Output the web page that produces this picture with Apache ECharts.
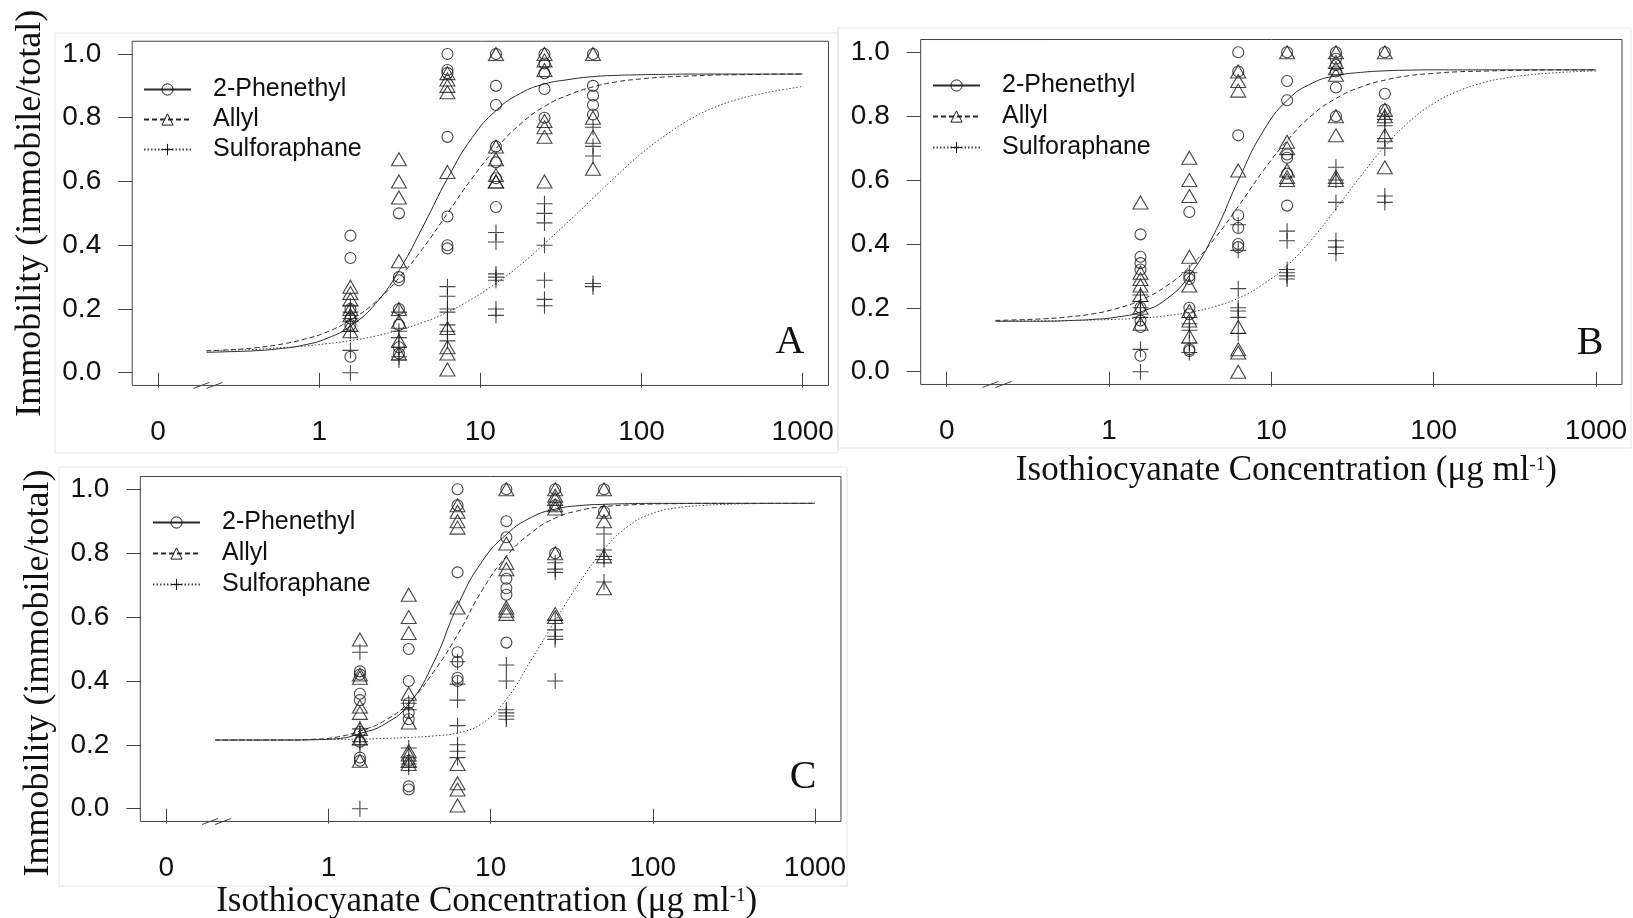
<!DOCTYPE html>
<html>
<head>
<meta charset="utf-8">
<script src="https://cdn.jsdelivr.net/npm/echarts@6/dist/echarts.min.js"></script>
<style>
  html, body { margin: 0; padding: 0; background: #fff; }
  #chart { width: 1633px; height: 918px; }
</style>
</head>
<body>
<div id="chart"></div>
<script>
// tested concentrations (ug/ml)
var doses = [1.5625, 3.125, 6.25, 12.5, 25, 50]
var xTicks = [0.1, 1, 10, 100, 1000]
var yTicks = [0, 0.2, 0.4, 0.6, 0.8, 1.0]
var seriesNames = ['2-Phenethyl', 'Allyl', 'Sulforaphane']
var panelLetters = ['A', 'B', 'C']

// observed immobility, one list per concentration
var aPhen = [
  [0.43, 0.36, 0.2, 0.17, 0.15, 0.05],
  [0.5, 0.3, 0.29, 0.2, 0.15, 0.08, 0.06],
  [1.0, 0.95, 0.94, 0.74, 0.49, 0.4, 0.39],
  [1.0, 0.9, 0.84, 0.71, 0.66, 0.61, 0.52],
  [1.0, 0.97, 0.94, 0.89, 0.8],
  [1.0, 0.9, 0.87, 0.84, 0.81]
]
var aAllyl = [
  [0.27, 0.25, 0.23, 0.2, 0.18, 0.15, 0.13],
  [0.67, 0.6, 0.55, 0.35, 0.2, 0.16, 0.1, 0.06],
  [0.94, 0.92, 0.9, 0.88, 0.63, 0.14, 0.08, 0.06, 0.01],
  [1.0, 0.71, 0.67, 0.62, 0.6, 0.6],
  [1.0, 0.98, 0.95, 0.79, 0.77, 0.74, 0.6],
  [1.0, 0.8, 0.74, 0.64]
]
var aSulf = [
  [0.21, 0.19, 0.17, 0.13, 0.07, 0.0],
  [0.19, 0.13, 0.11, 0.08, 0.05, 0.04],
  [0.27, 0.24, 0.2, 0.19, 0.15, 0.13, 0.1],
  [0.44, 0.41, 0.31, 0.3, 0.29, 0.2, 0.18],
  [0.53, 0.5, 0.47, 0.4, 0.29, 0.23, 0.21],
  [0.77, 0.71, 0.68, 0.28, 0.27]
]

var bPhen = [
  [0.43, 0.36, 0.34, 0.32, 0.2, 0.16, 0.14, 0.05],
  [0.5, 0.3, 0.29, 0.2, 0.18, 0.07, 0.065],
  [1.0, 0.94, 0.74, 0.49, 0.45, 0.4, 0.39],
  [1.0, 0.91, 0.85, 0.68, 0.67, 0.62, 0.52],
  [1.0, 0.98, 0.96, 0.94, 0.89, 0.8],
  [1.0, 0.87, 0.82]
]
var bAllyl = [
  [0.53, 0.31, 0.29, 0.27, 0.24, 0.2, 0.15],
  [0.67, 0.6, 0.55, 0.36, 0.27, 0.19, 0.16, 0.11],
  [0.94, 0.91, 0.88, 0.63, 0.14, 0.07, 0.06, 0.0],
  [1.0, 0.72, 0.7, 0.63, 0.61, 0.6],
  [1.0, 0.97, 0.95, 0.93, 0.8, 0.74, 0.61, 0.6],
  [1.0, 0.82, 0.8, 0.74, 0.64]
]
var bSulf = [
  [0.24, 0.22, 0.2, 0.17, 0.07, 0.0],
  [0.31, 0.15, 0.13, 0.09, 0.06],
  [0.46, 0.38, 0.26, 0.2, 0.19, 0.17, 0.12],
  [0.44, 0.41, 0.32, 0.31, 0.3, 0.29],
  [0.64, 0.6, 0.53, 0.41, 0.39, 0.37],
  [0.8, 0.79, 0.77, 0.73, 0.7, 0.55, 0.53]
]

var cPhen = [
  [0.43, 0.42, 0.36, 0.34, 0.24, 0.21, 0.16, 0.15],
  [0.5, 0.4, 0.33, 0.3, 0.28, 0.15, 0.07, 0.06],
  [1.0, 0.95, 0.74, 0.49, 0.46, 0.41, 0.4],
  [1.0, 0.9, 0.85, 0.72, 0.69, 0.67, 0.52],
  [1.0, 0.95, 0.8],
  [1.0, 0.93]
]
var cAllyl = [
  [0.53, 0.42, 0.41, 0.32, 0.3, 0.25, 0.22, 0.15],
  [0.67, 0.6, 0.55, 0.36, 0.27, 0.18, 0.17, 0.15, 0.14],
  [0.95, 0.93, 0.9, 0.88, 0.63, 0.14, 0.08, 0.06, 0.01],
  [1.0, 0.83, 0.77, 0.75, 0.63, 0.62, 0.61],
  [1.0, 0.98, 0.97, 0.95, 0.94, 0.8, 0.61, 0.6],
  [1.0, 0.93, 0.9, 0.79, 0.69]
]
var cSulf = [
  [0.49, 0.25, 0.23, 0.21, 0.2, 0.0],
  [0.33, 0.31, 0.19, 0.14, 0.13],
  [0.46, 0.39, 0.34, 0.26, 0.2, 0.18, 0.16],
  [0.45, 0.4, 0.31, 0.3, 0.29, 0.28],
  [0.77, 0.75, 0.74, 0.59, 0.56, 0.54, 0.53, 0.4],
  [0.86, 0.81, 0.79, 0.78, 0.71]
]

// fitted dose-response curves
var fitDose = [0.2, 0.28, 0.4, 0.56, 0.79, 1.12, 1.58, 2.24, 3.16, 4.47, 6.31, 8.91, 12.6, 17.8, 25.1, 35.5, 50.1, 70.8, 100, 141, 200, 282, 398, 562, 794, 1000]
var aPhenFit = [0.064, 0.066, 0.069, 0.075, 0.086, 0.108, 0.148, 0.217, 0.324, 0.465, 0.613, 0.738, 0.824, 0.877, 0.906, 0.92, 0.929, 0.933, 0.935, 0.936, 0.937, 0.937, 0.937, 0.937, 0.937, 0.937]
var aAllylFit = [0.069, 0.072, 0.078, 0.088, 0.104, 0.128, 0.167, 0.222, 0.3, 0.395, 0.503, 0.611, 0.705, 0.781, 0.836, 0.872, 0.897, 0.913, 0.922, 0.928, 0.931, 0.934, 0.935, 0.936, 0.937, 0.937]
var aSulfFit = [0.068, 0.071, 0.073, 0.078, 0.083, 0.091, 0.101, 0.115, 0.135, 0.159, 0.191, 0.232, 0.282, 0.339, 0.406, 0.476, 0.548, 0.62, 0.688, 0.745, 0.795, 0.832, 0.858, 0.876, 0.89, 0.898]
var bPhenFit = [0.158, 0.158, 0.158, 0.16, 0.1635, 0.171, 0.188, 0.226, 0.304, 0.435, 0.603, 0.753, 0.851, 0.903, 0.927, 0.937, 0.942, 0.944, 0.945, 0.945, 0.945, 0.945, 0.945, 0.945, 0.945, 0.945]
var bAllylFit = [0.1606, 0.1626, 0.1658, 0.1716, 0.181, 0.198, 0.225, 0.267, 0.33, 0.417, 0.52, 0.629, 0.725, 0.803, 0.856, 0.891, 0.913, 0.927, 0.934, 0.939, 0.941, 0.943, 0.944, 0.945, 0.945, 0.945]
var bSulfFit = [0.158, 0.159, 0.159, 0.16, 0.162, 0.164, 0.168, 0.175, 0.186, 0.204, 0.231, 0.274, 0.334, 0.415, 0.511, 0.612, 0.706, 0.783, 0.84, 0.878, 0.904, 0.92, 0.93, 0.936, 0.94, 0.942]
var cPhenFit = [0.215, 0.215, 0.215, 0.215, 0.216, 0.219, 0.236, 0.266, 0.33, 0.46, 0.64, 0.776, 0.86, 0.912, 0.938, 0.949, 0.953, 0.955, 0.956, 0.956, 0.956, 0.956, 0.956, 0.956, 0.956, 0.956]
var cAllylFit = [0.215, 0.215, 0.215, 0.215, 0.217, 0.224, 0.244, 0.277, 0.335, 0.43, 0.548, 0.686, 0.792, 0.864, 0.91, 0.934, 0.946, 0.951, 0.954, 0.955, 0.956, 0.956, 0.956, 0.956, 0.956, 0.956]
var cSulfFit = [0.215, 0.215, 0.215, 0.215, 0.216, 0.217, 0.218, 0.22, 0.223, 0.228, 0.238, 0.268, 0.345, 0.466, 0.59, 0.71, 0.812, 0.885, 0.925, 0.942, 0.949, 0.953, 0.955, 0.956, 0.956, 0.956]

var observed = [[aPhen, aAllyl, aSulf], [bPhen, bAllyl, bSulf], [cPhen, cAllyl, cSulf]]
var fitted = [[aPhenFit, aAllylFit, aSulfFit], [bPhenFit, bAllylFit, bSulfFit], [cPhenFit, cAllylFit, cSulfFit]]

var INK = '#1a1a1a'
var AXIS = '#444'
var SANS = 'Liberation Sans'
var SERIF = 'Liberation Serif'
var symbols = ['circle', 'triangle', 'path://M0,6L12,6M6,0L6,12']
var symbolSizes = [11, [15, 13], 16]
var dashes = ['solid', [5, 3], [1.5, 2]]
var lineColors = ['#2a2a2a', '#2a2a2a', '#444']

// plotting regions (data range 0.1..1000 and 0..1); R's box adds 4% around
var grids = [
  { left: 158, top: 54, width: 644.7, height: 318.7 },
  { left: 946.7, top: 52.3, width: 649.3, height: 319.4 },
  { left: 166.3, top: 489.3, width: 648.7, height: 319.4 }
]
var legendPos = [
  { left: 143, top: 77, itemGap: 5 },
  { left: 932, top: 73, itemGap: 6 },
  { left: 152, top: 510, itemGap: 6 }
]
var showYName = [true, false, true]
var showXName = [false, true, true]
var xNameGap = [0, 69, 63]
var xNamePad = [0, [0, 0, 0, 30], [0, 8, 0, 0]]
var yNamePad = [0, 0, [0, 48, 0, 0]]
var letterPos = [[790, 342], [1590, 343], [803, 777]]

var markStyle = { color: 'transparent', borderColor: INK, borderWidth: 1.1 }

var option = {
  animation: false,
  backgroundColor: '#fff',
  grid: [],
  xAxis: [],
  yAxis: [],
  legend: [],
  series: []
}

grids.forEach(function (g, i) {
  option.grid.push({
    left: g.left, top: g.top, width: g.width, height: g.height,
    show: false, outerBoundsMode: 'none'
  })
  option.xAxis.push({
    type: 'log', logBase: 10, gridIndex: i, min: 0.1, max: 1000,
    offset: g.height * 0.04,
    axisLine: { show: false },
    splitLine: { show: false },
    axisTick: { show: true, length: 15, lineStyle: { color: AXIS, width: 1 } },
    axisLabel: {
      margin: 33, fontFamily: SANS, fontSize: 28, color: '#111',
      formatter: function (v) { return v < 0.5 ? '0' : String(Math.round(v)) }
    },
    name: showXName[i] ? 'Isothiocyanate Concentration (\u03bcg ml{sup|-1})' : '',
    nameLocation: 'middle',
    nameGap: xNameGap[i],
    nameTextStyle: {
      fontFamily: SERIF, fontSize: 35, color: '#111', padding: xNamePad[i],
      rich: { sup: { fontFamily: SERIF, fontSize: 19, color: '#111', verticalAlign: 'top', padding: [2, 0, 0, 0] } }
    }
  })
  option.yAxis.push({
    type: 'value', gridIndex: i, min: 0, max: 1, interval: 0.2,
    offset: g.width * 0.04,
    axisLine: { show: false },
    splitLine: { show: false },
    axisTick: { show: true, length: 14, lineStyle: { color: AXIS, width: 1 } },
    axisLabel: {
      margin: 31, fontFamily: SANS, fontSize: 28, color: '#111',
      formatter: function (v) { return v.toFixed(1) }
    },
    name: showYName[i] ? 'Immobility (immobile/total)' : '',
    nameLocation: 'middle',
    nameRotate: 90,
    nameGap: 84,
    nameTextStyle: { fontFamily: SERIF, fontSize: 36, color: '#111', padding: yNamePad[i] }
  })
  option.legend.push({
    orient: 'vertical',
    left: legendPos[i].left, top: legendPos[i].top,
    padding: 0,
    itemGap: legendPos[i].itemGap,
    itemWidth: 47, itemHeight: 14,
    selectedMode: false,
    data: seriesNames,
    itemStyle: { color: 'transparent', borderColor: INK, borderWidth: 1 },
    textStyle: { fontFamily: SANS, fontSize: 25, color: '#111', lineHeight: 25, padding: [0, 0, 0, 17] }
  })

  for (var s = 0; s < 3; s++) {
    var fit = fitted[i][s]
    option.series.push({
      type: 'line', name: seriesNames[s],
      xAxisIndex: i, yAxisIndex: i,
      data: fitDose.map(function (d, k) { return [d, fit[k]] }),
      smooth: 0.5,
      symbol: symbols[s], showSymbol: false,
      itemStyle: markStyle,
      lineStyle: { color: lineColors[s], width: 1, type: dashes[s] },
      silent: true, z: 2
    })
    var pts = []
    observed[i][s].forEach(function (vals, j) {
      vals.forEach(function (v) { pts.push([doses[j], v]) })
    })
    option.series.push({
      type: 'scatter', name: panelLetters[i] + ' ' + seriesNames[s] + ' obs',
      xAxisIndex: i, yAxisIndex: i,
      data: pts,
      symbol: symbols[s], symbolSize: symbolSizes[s],
      itemStyle: markStyle,
      silent: true, z: 3
    })
  }
})

var chart = echarts.init(document.getElementById('chart'))
chart.setOption(option)

// box, axis breaks, panel letters and the light frames of the three figure panels
var graphics = [
  { type: 'rect', shape: { x: 55, y: 33, width: 783, height: 420 }, style: { fill: 'none', stroke: '#e4e4e4', lineWidth: 1 }, silent: true },
  { type: 'rect', shape: { x: 838, y: 28, width: 793, height: 420 }, style: { fill: 'none', stroke: '#e4e4e4', lineWidth: 1 }, silent: true },
  { type: 'rect', shape: { x: 59, y: 467, width: 788, height: 419 }, style: { fill: 'none', stroke: '#e4e4e4', lineWidth: 1 }, silent: true }
]
grids.forEach(function (g, i) {
  var mx = g.width * 0.04, my = g.height * 0.04
  graphics.push({
    type: 'rect', silent: true, z: 10,
    shape: { x: g.left - mx, y: g.top - my, width: g.width + 2 * mx, height: g.height + 2 * my },
    style: { fill: 'none', stroke: AXIS, lineWidth: 1 }
  })
  var yb = g.top + g.height + my
  ;[0.186, 0.224].forEach(function (bv) {
    var cx = chart.convertToPixel({ xAxisIndex: i }, bv)
    graphics.push({
      type: 'line', silent: true, z: 10,
      shape: { x1: cx - 8, y1: yb + 3, x2: cx + 8, y2: yb - 3 },
      style: { stroke: AXIS, lineWidth: 1 }
    })
  })
  graphics.push({
    type: 'text', silent: true, z: 10,
    style: {
      x: letterPos[i][0], y: letterPos[i][1], text: panelLetters[i],
      font: '40px "' + SERIF + '"', fill: '#111', align: 'center', verticalAlign: 'middle'
    }
  })
})
chart.setOption({ graphic: graphics })
</script>
</body>
</html>
